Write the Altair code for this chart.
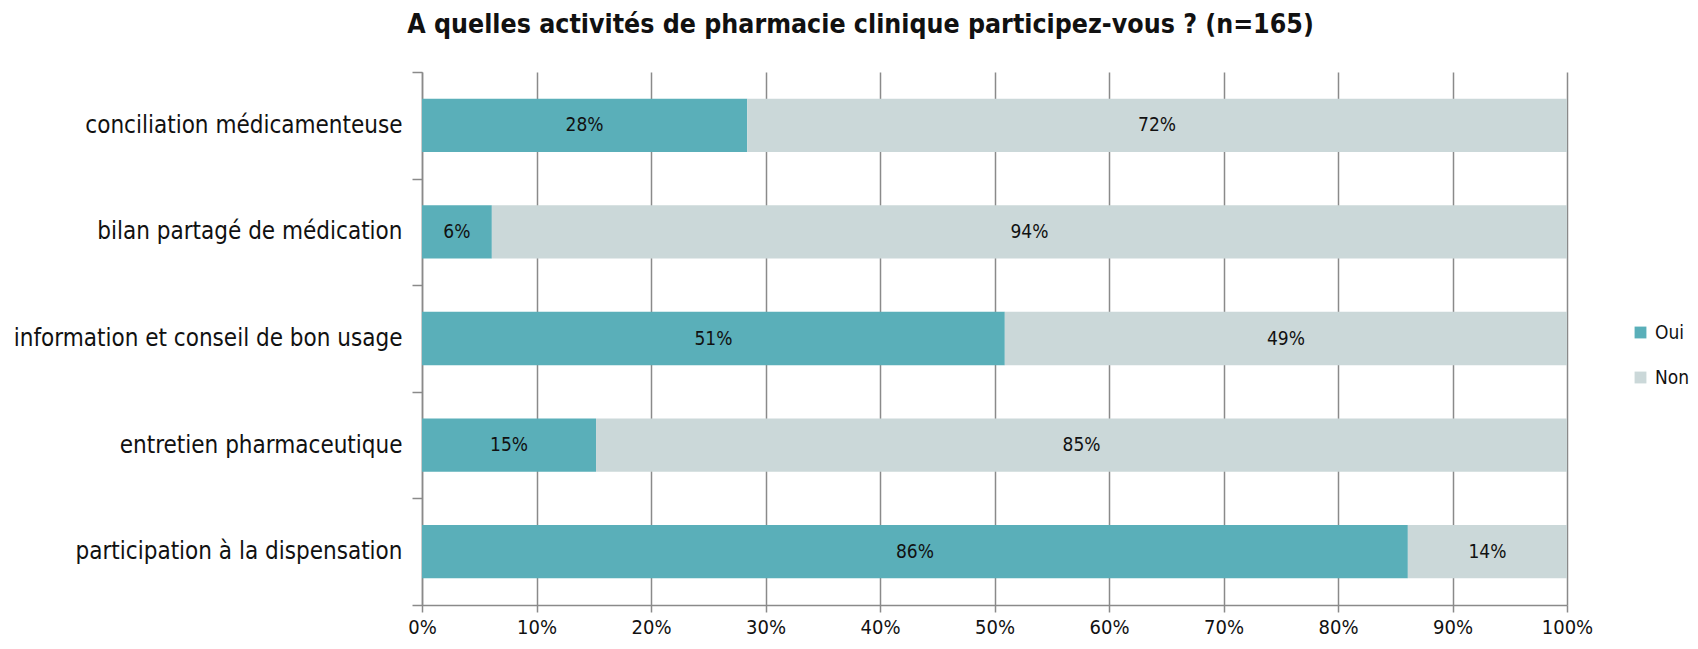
import altair as alt
import pandas as pd

categories = [
    "conciliation médicamenteuse",
    "bilan partagé de médication",
    "information et conseil de bon usage",
    "entretien pharmaceutique",
    "participation à la dispensation",
]
oui = [28.4, 6.1, 50.9, 15.2, 86.1]
non = [71.6, 93.9, 49.1, 84.8, 13.9]
series = ["Oui", "Non"]
colors = ["#5AAFB9", "#CBD8D9"]
x_ticks = [0, 10, 20, 30, 40, 50, 60, 70, 80, 90, 100]

rows = []
for i, c in enumerate(categories):
    rows.append({"cat": c, "serie": "Oui", "order": 0, "val": oui[i]})
    rows.append({"cat": c, "serie": "Non", "order": 1, "val": non[i]})
df = pd.DataFrame(rows)

FONT = "DejaVu Sans Condensed, DejaVu Sans, sans-serif"
GRID = "#8a8a8a"

base = alt.Chart(df).transform_stack(
    stack="val", groupby=["cat"], as_=["v0", "v1"], sort=[alt.SortField("order")]
).transform_calculate(mid="(datum.v0 + datum.v1) / 2")

y_enc = alt.Y(
    "cat:N",
    sort=categories,
    title=None,
    scale=alt.Scale(paddingInner=0, paddingOuter=0),
    axis=alt.Axis(
        tickBand="extent",
        tickSize=10,
        tickColor=GRID,
        tickWidth=1.5,
        domainColor=GRID,
        domainWidth=1.5,
        labelFont=FONT,
        labelFontSize=24,
        labelColor="#111111",
        labelPadding=10,
        labelLimit=0,
        grid=False,
    ),
)

bars = base.mark_bar(height={"band": 0.5}).encode(
    y=y_enc,
    x=alt.X(
        "v0:Q",
        scale=alt.Scale(domain=[0, 100], nice=False),
        title=None,
        axis=alt.Axis(
            values=x_ticks,
            labelExpr="datum.value + '%'",
            labelFlush=False,
            grid=True,
            gridColor=GRID,
            gridWidth=1.5,
            tickColor=GRID,
            tickWidth=1.5,
            tickSize=7,
            domainColor=GRID,
            domainWidth=1.5,
            labelFont=FONT,
            labelFontSize=20,
            labelColor="#111111",
            labelPadding=5,
        ),
    ),
    x2="v1:Q",
    color=alt.Color(
        "serie:N",
        sort=series,
        scale=alt.Scale(domain=series, range=colors),
        legend=alt.Legend(
            title=None,
            orient="none",
            legendX=1209,
            legendY=251,
            symbolType="square",
            symbolSize=140,
            symbolStrokeWidth=0,
            labelFont=FONT,
            labelFontSize=19,
            labelColor="#111111",
            rowPadding=25,
            labelOffset=5,
        ),
    ),
)

labels = base.mark_text(font=FONT, fontSize=19, color="#111111").encode(
    y=alt.Y("cat:N", sort=categories),
    x=alt.X("mid:Q"),
    text="lab:N",
).transform_calculate(lab="format(datum.val, '.0f') + '%'")

chart = (
    alt.layer(bars, labels)
    .properties(
        width=1145,
        height=533,
        autosize=alt.AutoSizeParams(type="none"),
        padding={"left": 414, "top": 64, "right": 123, "bottom": 34},
        title=alt.TitleParams(
            "A quelles activités de pharmacie clinique participez-vous ? (n=165)",
            font=FONT,
            fontSize=26.5,
            fontWeight="bold",
            color="#111111",
            anchor="middle",
            dx=-134,
            offset=22,
        ),
    )
    .configure_view(stroke=None)
)

chart.save("out.html", embed_options={"renderer": "svg", "actions": False})
